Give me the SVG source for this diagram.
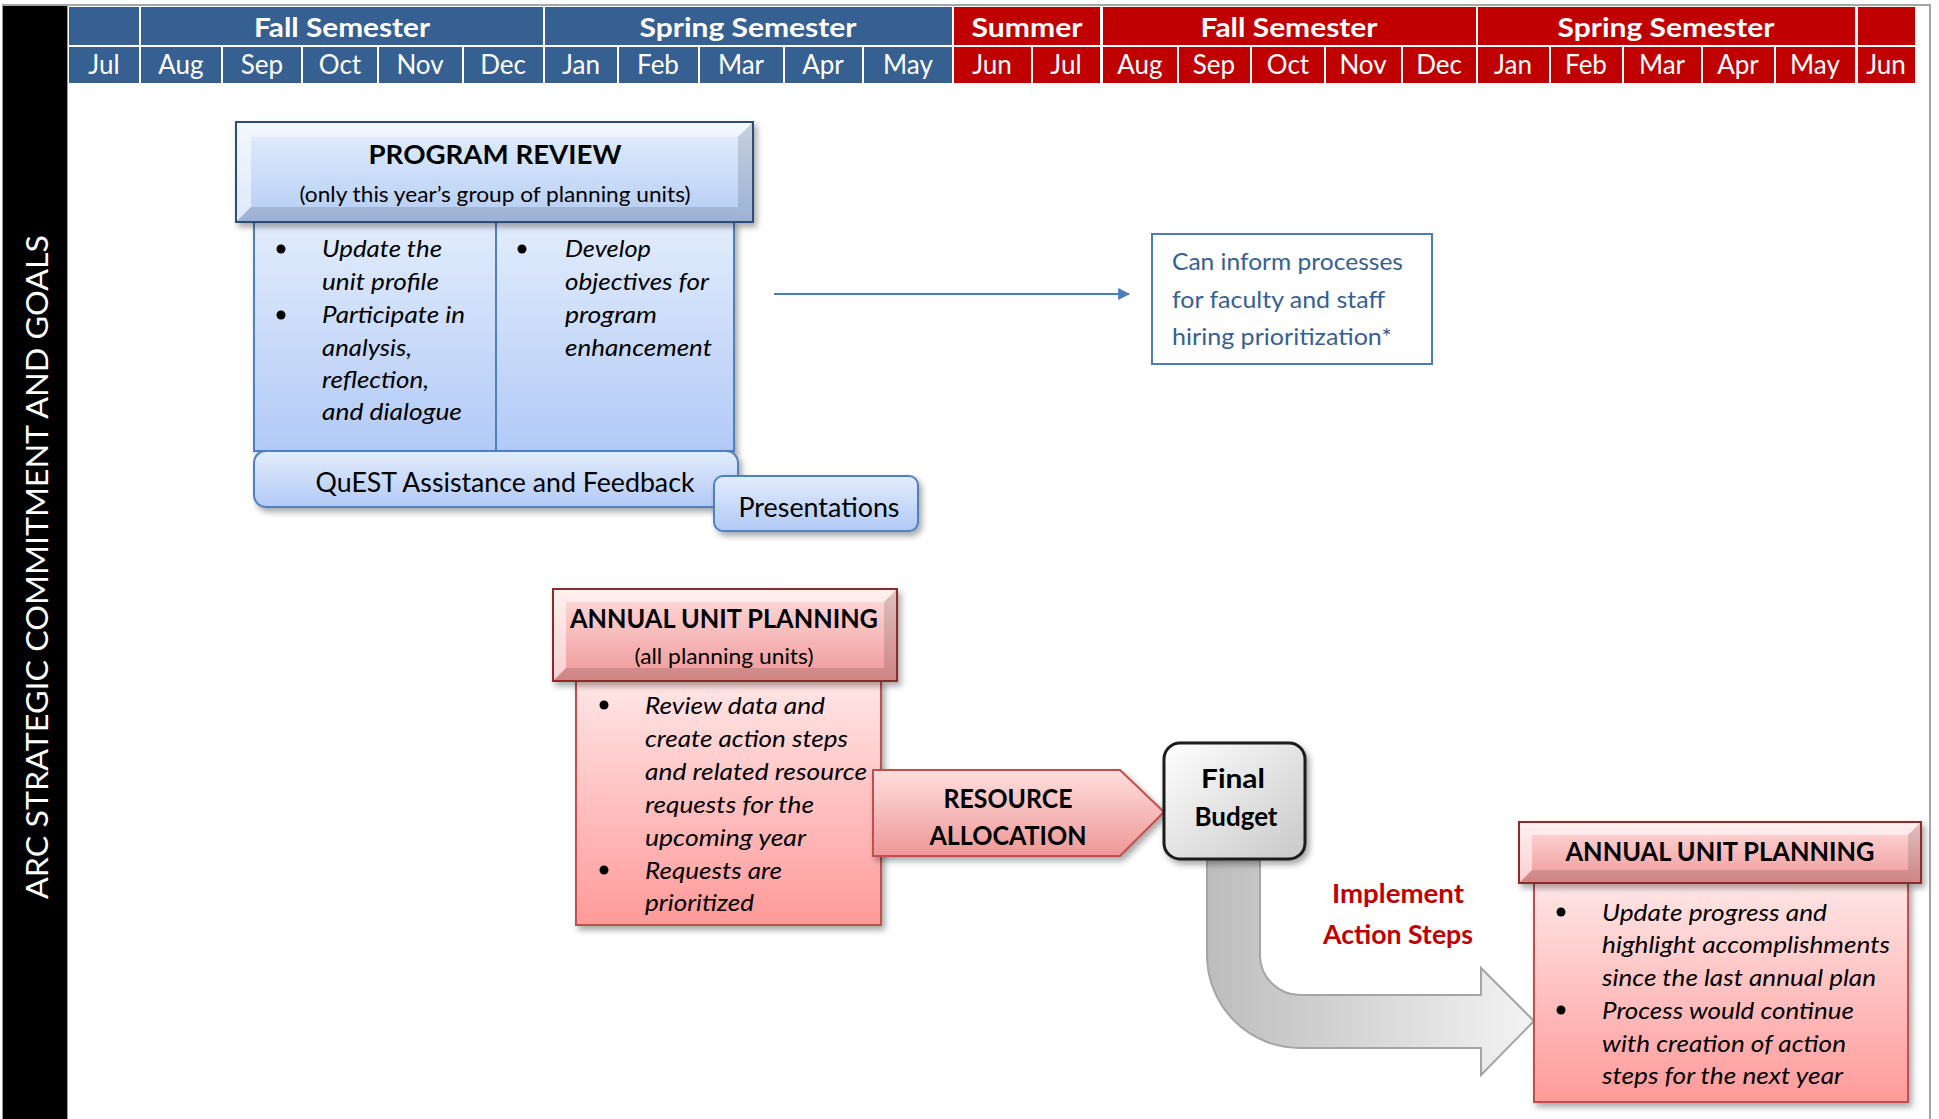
<svg xmlns="http://www.w3.org/2000/svg" width="1939" height="1119" viewBox="0 0 1939 1119">
  <defs>
    <linearGradient id="gBlueHdr" x1="0" y1="0" x2="0" y2="1">
      <stop offset="0" stop-color="#e6f0fd"/>
      <stop offset="1" stop-color="#b3ccf5"/>
    </linearGradient>
    <linearGradient id="gBlueBody" x1="0" y1="0" x2="0" y2="1">
      <stop offset="0" stop-color="#e2ecfc"/>
      <stop offset="1" stop-color="#b2caf7"/>
    </linearGradient>
    <linearGradient id="gRedHdr" x1="0" y1="0" x2="0" y2="1">
      <stop offset="0" stop-color="#ffdede"/>
      <stop offset="1" stop-color="#ef9797"/>
    </linearGradient>
    <linearGradient id="gRedBody" x1="0" y1="0" x2="0" y2="1">
      <stop offset="0" stop-color="#ffe6e6"/>
      <stop offset="1" stop-color="#ff9a9a"/>
    </linearGradient>
    <linearGradient id="gGray" x1="0" y1="0" x2="1" y2="1">
      <stop offset="0" stop-color="#ffffff"/>
      <stop offset="1" stop-color="#c8c8c8"/>
    </linearGradient>
    <linearGradient id="gArrow" x1="0" y1="0" x2="1" y2="0">
      <stop offset="0" stop-color="#bdbdbd"/>
      <stop offset="1" stop-color="#f3f3f3"/>
    </linearGradient>
    <filter id="shadow" x="-10%" y="-10%" width="130%" height="140%">
      <feDropShadow dx="3" dy="4" stdDeviation="3" flood-color="#000" flood-opacity="0.35"/>
    </filter>
    <marker id="arrowBlue" viewBox="0 0 10 10" refX="9" refY="5" markerWidth="6" markerHeight="6" orient="auto" markerUnits="strokeWidth">
      <path d="M0,0 L10,5 L0,10 z" fill="#4a7ebb"/>
    </marker>
    <style>
      text { font-family: Lato, "Liberation Sans", sans-serif; }
      .sem { font-size: 27px; font-weight: 700; fill: #fff; text-anchor: middle; }
      .mon { font-size: 26px; fill: #fff; text-anchor: middle; }
      .blue { fill: #376092; }
      .red { fill: #c00000; }
      .ttl { font-size: 27px; font-weight: 700; fill: #000; text-anchor: middle; }
      .sub { font-size: 22px; fill: #000; text-anchor: middle; }
      .it { font-size: 24px; font-style: italic; fill: #000; }
      .reg { font-size: 26px; fill: #000; text-anchor: middle; }
      .info { font-size: 24px; fill: #376092; }
      .impl { font-size: 27px; font-weight: 700; fill: #c00000; text-anchor: middle; }
      .side { font-size: 31px; fill: #fff; text-anchor: middle; }
      .bevL { fill: #fff; opacity: 0.55; }
      .bevD { fill: #000; opacity: 0.13; }
    </style>
  </defs>

  <rect width="1939" height="1119" fill="#fff"/>

  <!-- frame -->
  <g id="frame">
    <line x1="2" y1="5" x2="1931" y2="5" stroke="#a6a6a6" stroke-width="2"/>
    <line x1="1930" y1="5" x2="1930" y2="1119" stroke="#a6a6a6" stroke-width="2"/>
    <rect x="2" y="6" width="66" height="1113" fill="#9a9a9a"/>
    <rect x="3" y="6" width="64" height="1113" fill="#000"/>
    <text class="side" transform="translate(48,567) rotate(-90)" textLength="664" lengthAdjust="spacingAndGlyphs">ARC STRATEGIC COMMITMENT AND GOALS</text>
  </g>

  <!-- timeline header -->
  <g id="timeline">
    <g class="blue">
      <rect x="69" y="7" width="70" height="38"/>
      <rect x="141" y="7" width="402" height="38"/>
      <rect x="545" y="7" width="407" height="38"/>
      <rect x="69" y="47" width="70" height="36"/>
      <rect x="141" y="47" width="80" height="36"/>
      <rect x="223" y="47" width="78" height="36"/>
      <rect x="303" y="47" width="74" height="36"/>
      <rect x="379" y="47" width="83" height="36"/>
      <rect x="464" y="47" width="79" height="36"/>
      <rect x="545" y="47" width="72" height="36"/>
      <rect x="619" y="47" width="79" height="36"/>
      <rect x="700" y="47" width="83" height="36"/>
      <rect x="785" y="47" width="77" height="36"/>
      <rect x="864" y="47" width="88" height="36"/>
    </g>
    <g class="red">
      <rect x="954" y="7" width="146" height="38"/>
      <rect x="1103" y="7" width="373" height="38"/>
      <rect x="1478" y="7" width="377" height="38"/>
      <rect x="1858" y="7" width="57" height="38"/>
      <rect x="954" y="47" width="77" height="36"/>
      <rect x="1033" y="47" width="67" height="36"/>
      <rect x="1103" y="47" width="74" height="36"/>
      <rect x="1179" y="47" width="71" height="36"/>
      <rect x="1252" y="47" width="72" height="36"/>
      <rect x="1326" y="47" width="75" height="36"/>
      <rect x="1403" y="47" width="73" height="36"/>
      <rect x="1478" y="47" width="71" height="36"/>
      <rect x="1551" y="47" width="71" height="36"/>
      <rect x="1624" y="47" width="77" height="36"/>
      <rect x="1703" y="47" width="71" height="36"/>
      <rect x="1776" y="47" width="79" height="36"/>
      <rect x="1858" y="47" width="57" height="36"/>
    </g>
    <text class="sem" x="342" y="37" textLength="176" lengthAdjust="spacingAndGlyphs">Fall Semester</text>
    <text class="sem" x="748" y="37" textLength="217" lengthAdjust="spacingAndGlyphs">Spring Semester</text>
    <text class="sem" x="1027" y="37" textLength="111" lengthAdjust="spacingAndGlyphs">Summer</text>
    <text class="sem" x="1289" y="37" textLength="177" lengthAdjust="spacingAndGlyphs">Fall Semester</text>
    <text class="sem" x="1666" y="37" textLength="217" lengthAdjust="spacingAndGlyphs">Spring Semester</text>
    <text class="mon" x="104" y="74">Jul</text>
    <text class="mon" x="181" y="74">Aug</text>
    <text class="mon" x="262" y="74">Sep</text>
    <text class="mon" x="340" y="74">Oct</text>
    <text class="mon" x="420" y="74">Nov</text>
    <text class="mon" x="503" y="74">Dec</text>
    <text class="mon" x="581" y="74">Jan</text>
    <text class="mon" x="658" y="74">Feb</text>
    <text class="mon" x="741" y="74">Mar</text>
    <text class="mon" x="823" y="74">Apr</text>
    <text class="mon" x="908" y="74">May</text>
    <text class="mon" x="992" y="74">Jun</text>
    <text class="mon" x="1066" y="74">Jul</text>
    <text class="mon" x="1140" y="74">Aug</text>
    <text class="mon" x="1214" y="74">Sep</text>
    <text class="mon" x="1288" y="74">Oct</text>
    <text class="mon" x="1363" y="74">Nov</text>
    <text class="mon" x="1439" y="74">Dec</text>
    <text class="mon" x="1513" y="74">Jan</text>
    <text class="mon" x="1586" y="74">Feb</text>
    <text class="mon" x="1662" y="74">Mar</text>
    <text class="mon" x="1738" y="74">Apr</text>
    <text class="mon" x="1815" y="74">May</text>
    <text class="mon" x="1886" y="74">Jun</text>
  </g>

  <!-- connectors -->
  <g id="connectors">
    <line x1="774" y1="294" x2="1129" y2="294" stroke="#4a7ebb" stroke-width="2" marker-end="url(#arrowBlue)"/>
    <path d="M1207,850 L1207,955 A93,93 0 0 0 1300,1048 L1481,1048 L1481,1075 L1534,1021 L1481,968 L1481,995 L1300,995 A40,40 0 0 1 1260,955 L1260,850 Z" fill="url(#gArrow)" stroke="#a5a5a5" stroke-width="2"/>
  </g>

  <!-- Program Review -->
  <g id="program-review">
    <g filter="url(#shadow)">
      <rect x="254" y="222" width="480" height="229" fill="url(#gBlueBody)" stroke="#4f81bd" stroke-width="2"/>
    </g>
    <line x1="496" y1="222" x2="496" y2="451" stroke="#4f81bd" stroke-width="2"/>
    <g>
      <circle cx="281" cy="249" r="4.5" fill="#000"/>
      <circle cx="281" cy="315" r="4.5" fill="#000"/>
      <text class="it" x="322" y="257" textLength="120" lengthAdjust="spacingAndGlyphs">Update the</text>
      <text class="it" x="322" y="290" textLength="117" lengthAdjust="spacingAndGlyphs">unit profile</text>
      <text class="it" x="322" y="323" textLength="143" lengthAdjust="spacingAndGlyphs">Participate in</text>
      <text class="it" x="322" y="356" textLength="90" lengthAdjust="spacingAndGlyphs">analysis,</text>
      <text class="it" x="322" y="388" textLength="107" lengthAdjust="spacingAndGlyphs">reflection,</text>
      <text class="it" x="322" y="420" textLength="140" lengthAdjust="spacingAndGlyphs">and dialogue</text>
      <circle cx="522" cy="249" r="4.5" fill="#000"/>
      <text class="it" x="565" y="257" textLength="86" lengthAdjust="spacingAndGlyphs">Develop</text>
      <text class="it" x="565" y="290" textLength="144" lengthAdjust="spacingAndGlyphs">objectives for</text>
      <text class="it" x="565" y="323" textLength="92" lengthAdjust="spacingAndGlyphs">program</text>
      <text class="it" x="565" y="356" textLength="147" lengthAdjust="spacingAndGlyphs">enhancement</text>
    </g>
    <g id="program-review-header">
      <rect x="236" y="122" width="517" height="100" fill="url(#gBlueHdr)" stroke="#2c4d7a" stroke-width="2" filter="url(#shadow)"/>
      <polygon class="bevL" points="237,123 752,123 738,137 251,137"/>
      <polygon class="bevL" points="237,123 251,137 251,207 237,221" opacity="0.35"/>
      <polygon class="bevD" points="237,221 251,207 738,207 752,221"/>
      <polygon class="bevD" points="752,123 752,221 738,207 738,137"/>
      <text class="ttl" x="495" y="164" textLength="253" lengthAdjust="spacingAndGlyphs">PROGRAM REVIEW</text>
      <text class="sub" x="495" y="202" textLength="391" lengthAdjust="spacingAndGlyphs">(only this year’s group of planning units)</text>
    </g>
  </g>

  <g id="quest">
    <rect x="254" y="451" width="484" height="56" rx="12" fill="url(#gBlueBody)" stroke="#4f81bd" stroke-width="2" filter="url(#shadow)"/>
    <text class="reg" x="505" y="492" textLength="379" lengthAdjust="spacingAndGlyphs">QuEST Assistance and Feedback</text>
  </g>

  <g id="presentations">
    <rect x="714" y="476" width="204" height="55" rx="9" fill="url(#gBlueBody)" stroke="#4f81bd" stroke-width="2" filter="url(#shadow)"/>
    <text class="reg" x="819" y="517" textLength="161" lengthAdjust="spacingAndGlyphs">Presentations</text>
  </g>

  <g id="hiring-note">
    <rect x="1152" y="234" width="280" height="130" fill="#fff" stroke="#4a7ebb" stroke-width="2"/>
    <text class="info" x="1172" y="270" textLength="231" lengthAdjust="spacingAndGlyphs">Can inform processes</text>
    <text class="info" x="1172" y="308" textLength="213" lengthAdjust="spacingAndGlyphs">for faculty and staff</text>
    <text class="info" x="1172" y="345" textLength="220" lengthAdjust="spacingAndGlyphs">hiring prioritization*</text>
  </g>

  <!-- Annual Unit Planning (1) -->
  <g id="annual-unit-planning-1">
    <rect x="576" y="681" width="305" height="244" fill="url(#gRedBody)" stroke="#c0504d" stroke-width="2" filter="url(#shadow)"/>
    <circle cx="604" cy="705" r="4.5" fill="#000"/>
    <circle cx="604" cy="870" r="4.5" fill="#000"/>
    <text class="it" x="645" y="714" textLength="180" lengthAdjust="spacingAndGlyphs">Review data and</text>
    <text class="it" x="645" y="747" textLength="203" lengthAdjust="spacingAndGlyphs">create action steps</text>
    <text class="it" x="645" y="780" textLength="222" lengthAdjust="spacingAndGlyphs">and related resource</text>
    <text class="it" x="645" y="813" textLength="169" lengthAdjust="spacingAndGlyphs">requests for the</text>
    <text class="it" x="645" y="846" textLength="161" lengthAdjust="spacingAndGlyphs">upcoming year</text>
    <text class="it" x="645" y="879" textLength="137" lengthAdjust="spacingAndGlyphs">Requests are</text>
    <text class="it" x="645" y="911" textLength="109" lengthAdjust="spacingAndGlyphs">prioritized</text>
    <g>
      <rect x="553" y="589" width="344" height="92" fill="url(#gRedHdr)" stroke="#8e2b2b" stroke-width="2" filter="url(#shadow)"/>
      <polygon class="bevL" points="554,590 896,590 884,602 566,602"/>
      <polygon class="bevL" points="554,590 566,602 566,668 554,680" opacity="0.35"/>
      <polygon class="bevD" points="554,680 566,668 884,668 896,680"/>
      <polygon class="bevD" points="896,590 896,680 884,668 884,602"/>
      <text class="ttl" x="724" y="628" textLength="308" lengthAdjust="spacingAndGlyphs">ANNUAL UNIT PLANNING</text>
      <text class="sub" x="724" y="664" textLength="179" lengthAdjust="spacingAndGlyphs">(all planning units)</text>
    </g>
  </g>

  <g id="resource-allocation">
    <polygon points="873,770 1120,770 1164,812 1120,856 873,856" fill="url(#gRedHdr)" stroke="#c0504d" stroke-width="2" filter="url(#shadow)"/>
    <text class="ttl" x="1008" y="808" textLength="129" lengthAdjust="spacingAndGlyphs">RESOURCE</text>
    <text class="ttl" x="1008" y="845" textLength="157" lengthAdjust="spacingAndGlyphs">ALLOCATION</text>
  </g>

  <g id="final-budget">
    <rect x="1164" y="743" width="141" height="116" rx="16" fill="url(#gGray)" stroke="#1a1a1a" stroke-width="3" filter="url(#shadow)"/>
    <text class="ttl" x="1233" y="788" textLength="64" lengthAdjust="spacingAndGlyphs">Final</text>
    <text class="ttl" x="1236" y="826" textLength="83" lengthAdjust="spacingAndGlyphs">Budget</text>
  </g>

  <g id="implement-label">
    <text class="impl" x="1398" y="903" textLength="132" lengthAdjust="spacingAndGlyphs">Implement</text>
    <text class="impl" x="1398" y="944" textLength="150" lengthAdjust="spacingAndGlyphs">Action Steps</text>
  </g>

  <!-- Annual Unit Planning (2) -->
  <g id="annual-unit-planning-2">
    <rect x="1534" y="883" width="374" height="219" fill="url(#gRedBody)" stroke="#c0504d" stroke-width="2" filter="url(#shadow)"/>
    <circle cx="1561" cy="912" r="4.5" fill="#000"/>
    <circle cx="1561" cy="1010" r="4.5" fill="#000"/>
    <text class="it" x="1602" y="921" textLength="225" lengthAdjust="spacingAndGlyphs">Update progress and</text>
    <text class="it" x="1602" y="953" textLength="288" lengthAdjust="spacingAndGlyphs">highlight accomplishments</text>
    <text class="it" x="1602" y="986" textLength="274" lengthAdjust="spacingAndGlyphs">since the last annual plan</text>
    <text class="it" x="1602" y="1019" textLength="252" lengthAdjust="spacingAndGlyphs">Process would continue</text>
    <text class="it" x="1602" y="1052" textLength="244" lengthAdjust="spacingAndGlyphs">with creation of action</text>
    <text class="it" x="1602" y="1084" textLength="241" lengthAdjust="spacingAndGlyphs">steps for the next year</text>
    <g>
      <rect x="1519" y="822" width="402" height="61" fill="url(#gRedHdr)" stroke="#8e2b2b" stroke-width="2" filter="url(#shadow)"/>
      <polygon class="bevL" points="1520,823 1920,823 1908,835 1532,835"/>
      <polygon class="bevL" points="1520,823 1532,835 1532,870 1520,882" opacity="0.35"/>
      <polygon class="bevD" points="1520,882 1532,870 1908,870 1920,882"/>
      <polygon class="bevD" points="1920,823 1920,882 1908,870 1908,835"/>
      <text class="ttl" x="1720" y="861" textLength="309" lengthAdjust="spacingAndGlyphs">ANNUAL UNIT PLANNING</text>
    </g>
  </g>
</svg>
